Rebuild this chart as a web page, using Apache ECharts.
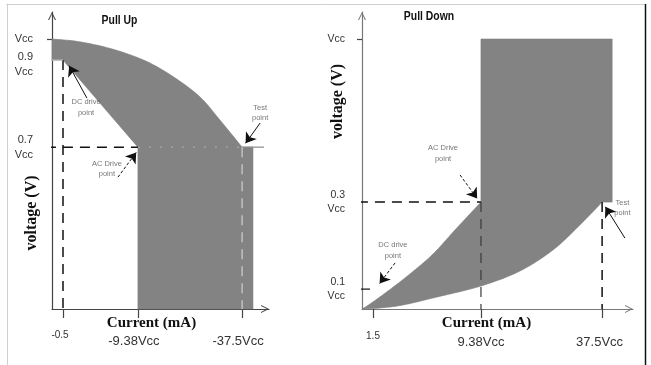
<!DOCTYPE html>
<html><head><meta charset="utf-8">
<script src="https://cdn.jsdelivr.net/npm/echarts@6/dist/echarts.min.js"></script>
<style>html,body{margin:0;padding:0;background:#fff}#c{width:651px;height:365px}</style>
</head><body><div id="c"></div>
<script>
// ---- Pull Up panel (schematic units: x 0-100 along the current axis, y 0-100 up the voltage axis)
const upXTicks = [5.07, 39.6, 87.6];
const upXLabels = ['-0.5', '-9.38Vcc', '-37.5Vcc'];
const upYTicks = [90.9, 83.8, 54.5];
const upYLabels = ['Vcc', '0.9\nVcc', '0.7\nVcc'];
const upCurve = [[0,90.9],[10.6,90.2],[22.1,88.6],[33.6,86.2],[45.2,82.8],[56.7,77.8],[68.2,71.4],[77.4,63.6],[87.6,54.5]];
const upRegionRest = [[92.6,54.5],[92.6,0],[39.6,0],[39.6,54.5],[5.07,83.8],[0,83.8]];
const upDcDrop = [[5.07,83.8],[5.07,0]];
const upAcLevel = [[-2.8,54.5],[39.6,54.5]];
const upBandLevel = [[39.6,54.5],[87.6,54.5]];
const upTestLevel = [[87.6,54.5],[97.7,54.5]];
const upTestDrop = [[87.6,54.5],[87.6,0]];
const upNinetyMark = [[-1.8,83.8],[5.07,83.8]];
const upNotes = [['DC drive\npoint',[15.7,67.8]],['AC Drive\npoint',[25.3,47.1]],['Test\npoint',[95.9,66.0]]];
const upArrowsSolid = [[[16.1,71.0],[7.9,81.9]],[[95.9,62.6],[89.2,55.8]]];
const upArrowsDashed = [[[30.4,44.4],[38.8,52.7]]];

// ---- Pull Down panel
const downXTicks = [4.06, 43.9, 88.6];
const downXLabels = ['1.5', '9.38Vcc', '37.5Vcc'];
const downYTicks = [90.9, 36.0, 6.7];
const downYLabels = ['Vcc', '0.3\nVcc', '0.1\nVcc'];
const downCurve = [[0,0],[6.6,0.34],[15.1,1.35],[27.7,4.04],[43.9,7.74],[58.3,12.8],[70.5,19.9],[80.4,28.3],[88.6,36.0]];
const downRect = [[92.3,36.0],[92.3,90.9],[43.9,90.9],[43.9,36.0]];
const downDiag = [[43.9,36.0],[34.3,26.6],[26.2,18.5],[17.7,11.8],[9.59,6.06],[2.95,1.68],[0,0]];
const downAcLevel = [[-1.5,36.0],[43.9,36.0]];
const downAcDrop = [[43.9,36.0],[43.9,0]];
const downTestDrop = [[88.6,36.0],[88.6,0]];
const downTenthMark = [[-1.5,6.7],[2.95,6.7]];
const downNotes = [['AC Drive\npoint',[29.9,52.4]],['DC drive\npoint',[11.4,19.7]],['Test\npoint',[96.1,34.0]]];
const downArrowsSolid = [[[97.0,23.9],[89.8,34.4]]];
const downArrowsDashed = [[[36.2,45.1],[42.5,37.2]],[[12.2,15.5],[6.5,8.6]]];

const SANS = "'Liberation Sans',Arial,sans-serif";
const SERIF = "'Liberation Serif','Times New Roman',serif";
const ARROW = 'path://M5,0 L10,10 L8.6,10 L5,2.6 L1.4,10 L0,10 Z';
const GRAY = '#838383';

function pick(ticks, labels) {
  return function (v) {
    let i = 0, b = 1e9;
    ticks.forEach(function (t, k) { const d = Math.abs(t - v); if (d < b) { b = d; i = k; } });
    return labels[i];
  };
}
// draw a smooth (Catmull-Rom) edge through pixel points, like a line series' smooth option
function smoothEdge(px) {
  const out = [px[0]];
  for (let i = 0; i < px.length - 1; i++) {
    const p0 = px[i - 1] || px[i], p1 = px[i], p2 = px[i + 1], p3 = px[i + 2] || px[i + 1];
    for (let k = 1; k <= 12; k++) {
      const t = k / 12, t2 = t * t, t3 = t2 * t;
      const f = function (a, b, c, d) {
        return 0.5 * ((2 * b) + (-a + c) * t + (2 * a - 5 * b + 4 * c - d) * t2 + (-a + 3 * b - 3 * c + d) * t3);
      };
      out.push([f(p0[0], p1[0], p2[0], p3[0]), f(p0[1], p1[1], p2[1], p3[1])]);
    }
  }
  return out;
}
function regionSeries(xi, curved, straight, curved2) {
  const all = curved.concat(straight, curved2 || []);
  return {type:'custom', xAxisIndex:xi, yAxisIndex:xi, data:all, encode:{x:0,y:1}, clip:false, silent:true, z:1,
    renderItem: function (params, api) {
      if (params.dataIndex !== 0) return null;
      const c = function (p) { return api.coord(p); };
      let pts = smoothEdge(curved.map(c)).concat(straight.map(c));
      if (curved2) pts = pts.concat(smoothEdge(curved2.map(c)));
      return {type:'polygon', shape:{points:pts}, style:{fill:GRAY, stroke:'#7a7a7a', lineWidth:0.6}};
    }};
}
function seg(xi, pts, style, z) {
  return {type:'line', xAxisIndex:xi, yAxisIndex:xi, data:pts, symbol:'none', clip:false, silent:true,
    z:z || 3, lineStyle:style};
}
function arrows(xi, list, dashed) {
  return {type:'lines', coordinateSystem:'cartesian2d', xAxisIndex:xi, yAxisIndex:xi,
    data:list.map(function (c) { return {coords:c}; }), symbol:['none','arrow'], symbolSize:10, silent:true, z:5,
    lineStyle:{color:'#111', width:1, type: dashed ? [3,2] : 'solid', opacity:1, curveness:0}};
}
function notes(xi, list) {
  return {type:'scatter', xAxisIndex:xi, yAxisIndex:xi, data:list.map(function (n) { return {name:n[0], value:n[1]}; }),
    symbolSize:0, silent:true, z:6, clip:false,
    label:{show:true, position:'inside', formatter:function (p) { return p.name; }, fontFamily:SANS,
      fontSize:7.5, lineHeight:10.5, color:'#555', align:'center'}};
}
function xAx(gi, ticks, color, rich, fmt) {
  return {gridIndex:gi, type:'value', min:0, max:100,
    axisLine:{show:true, onZero:false, symbol:['none', ARROW], symbolSize:[8,8], symbolOffset:[0,-4], lineStyle:{color:color, width:1.2}},
    splitLine:{show:false},
    axisTick:{show:true, customValues:ticks, length:9, lineStyle:{color:'#444', width:1.2}},
    axisLabel:{show:true, customValues:ticks, hideOverlap:false, interval:0, margin:21, formatter:fmt, rich:rich, color:'#333', fontFamily:SANS}};
}
function yAx(gi, tickVals, labelVals, color, margin, fmt, rich, lineShown) {
  return {gridIndex:gi, type:'value', min:0, max:100, position:'left',
    axisLine:{show:lineShown, onZero:false, symbol:['none', ARROW], symbolSize:[8,8], symbolOffset:[0,-4], lineStyle:{color:color, width:1.2}},
    splitLine:{show:false},
    axisTick:{show:tickVals.length > 0, customValues:tickVals, length:5, lineStyle:{color:'#444', width:1.2}},
    axisLabel:{show:true, customValues:labelVals, hideOverlap:false, interval:0, showMinLabel:true, showMaxLabel:true,
      margin:margin, formatter:fmt, rich:rich, color:'#333', fontFamily:SANS}};
}

const upXFmt = function (v) { const s = pick(upXTicks, upXLabels)(v); return s === upXLabels[0] ? '{s|' + s + '}' : '{b|' + s + '}'; };
const downXFmt = function (v) { const s = pick(downXTicks, downXLabels)(v); return s === downXLabels[0] ? '{s|' + s + '}' : (s === downXLabels[2] ? '{c|' + s + '}' : '{b|' + s + '}'); };
const upRich = {s:{fontSize:10, color:'#333', fontFamily:SANS, padding:[0,6,0,0]}, b:{fontSize:13, color:'#333', fontFamily:SANS, padding:[5,8,0,0]}};
const downRich = {s:{fontSize:10, color:'#333', fontFamily:SANS, padding:[1,0,0,0]}, b:{fontSize:13, color:'#333', fontFamily:SANS, padding:[6,0,0,0]}, c:{fontSize:13, color:'#333', fontFamily:SANS, padding:[6,5,0,0]}};
const upYFmt = function (v) {
  const s = pick(upYTicks, upYLabels)(v);
  const body = s.split('\n').map(function (l) { return '{a|' + l + '}'; }).join('\n');
  return s === upYLabels[1] ? '{e| }\n' + body : body;
};
const downYFmt = function (v) {
  const s = pick(downYTicks, downYLabels)(v);
  return s.split('\n').map(function (l) { return '{a|' + l + '}'; }).join('\n');
};
const upYRich = {a:{fontSize:11, lineHeight:15, color:'#333', fontFamily:SANS}, e:{fontSize:6, lineHeight:9}};
const downYRich = {a:{fontSize:10.5, lineHeight:13.5, color:'#333', fontFamily:SANS}};

const option = {
  animation:false,
  backgroundColor:'#fff',
  grid:[{left:52, top:12, width:217, height:297}, {left:362, top:12, width:271, height:297}],
  xAxis:[xAx(0, upXTicks, '#444', upRich, upXFmt), xAx(1, downXTicks, '#777', downRich, downXFmt)],
  yAxis:[
    yAx(0, [upYTicks[0]], upYTicks.slice(1), '#444', 19, upYFmt, upYRich, true),
    yAx(1, [downYTicks[0]], downYTicks, '#777', 17, downYFmt, downYRich, true),
    yAx(0, [], [upYTicks[0]], '#444', 19, upYFmt, upYRich, false)
  ],
  series:[
    regionSeries(0, upCurve, upRegionRest),
    seg(0, upDcDrop, {color:'#111', width:1.5, type:[10,7]}),
    seg(0, upAcLevel, {color:'#111', width:1.5, type:[10,7]}),
    seg(0, upBandLevel, {color:'#b0b0b0', width:1, type:[2,9]}),
    seg(0, upTestLevel, {color:'#8a8a8a', width:1.2}),
    seg(0, upTestDrop, {color:'#d0d0d0', width:1.2, type:[10,7]}),
    seg(0, upNinetyMark, {color:'#bdbdbd', width:1.2}),
    arrows(0, upArrowsSolid, false),
    arrows(0, upArrowsDashed, true),
    notes(0, upNotes),
    regionSeries(1, downCurve, downRect, downDiag),
    seg(1, downAcLevel, {color:'#111', width:1.5, type:[10,7]}),
    seg(1, downAcDrop, {color:'#3a3a3a', width:1.2, type:[10,7]}),
    seg(1, downTestDrop, {color:'#111', width:1.5, type:[10,7]}),
    seg(1, downTenthMark, {color:'#111', width:1.2}),
    arrows(1, downArrowsSolid, false),
    arrows(1, downArrowsDashed, true),
    notes(1, downNotes)
  ],
  graphic:[
    {type:'line', silent:true, shape:{x1:6, y1:4.5, x2:645, y2:4.5}, style:{stroke:'#cfcfcf', lineWidth:1}},
    {type:'line', silent:true, shape:{x1:7.5, y1:4, x2:7.5, y2:365}, style:{stroke:'#cfcfcf', lineWidth:1}},
    {type:'line', silent:true, shape:{x1:645.5, y1:4, x2:645.5, y2:365}, style:{stroke:'#111', lineWidth:1.5}},
    {type:'text', silent:true, x:119.5, y:20.5, scaleX:0.8, style:{text:'Pull Up', font:'bold 13px ' + SANS, fill:'#111', align:'center', verticalAlign:'middle'}},
    {type:'text', silent:true, x:429, y:16, scaleX:0.8, style:{text:'Pull Down', font:'bold 13px ' + SANS, fill:'#111', align:'center', verticalAlign:'middle'}},
    {type:'text', silent:true, x:151.5, y:323, style:{text:'Current (mA)', font:'bold 15px ' + SERIF, fill:'#111', align:'center', verticalAlign:'middle'}},
    {type:'text', silent:true, x:486.5, y:323, style:{text:'Current (mA)', font:'bold 15px ' + SERIF, fill:'#111', align:'center', verticalAlign:'middle'}},
    {type:'text', silent:true, x:32, y:213, rotation:Math.PI / 2, style:{text:'voltage (V)', font:'bold 16px ' + SERIF, fill:'#111', align:'center', verticalAlign:'middle'}},
    {type:'text', silent:true, x:338, y:101.5, rotation:Math.PI / 2, style:{text:'voltage (V)', font:'bold 16px ' + SERIF, fill:'#111', align:'center', verticalAlign:'middle'}}
  ]
};
const chart = echarts.init(document.getElementById('c'));
chart.setOption(option);
</script>
</body></html>
